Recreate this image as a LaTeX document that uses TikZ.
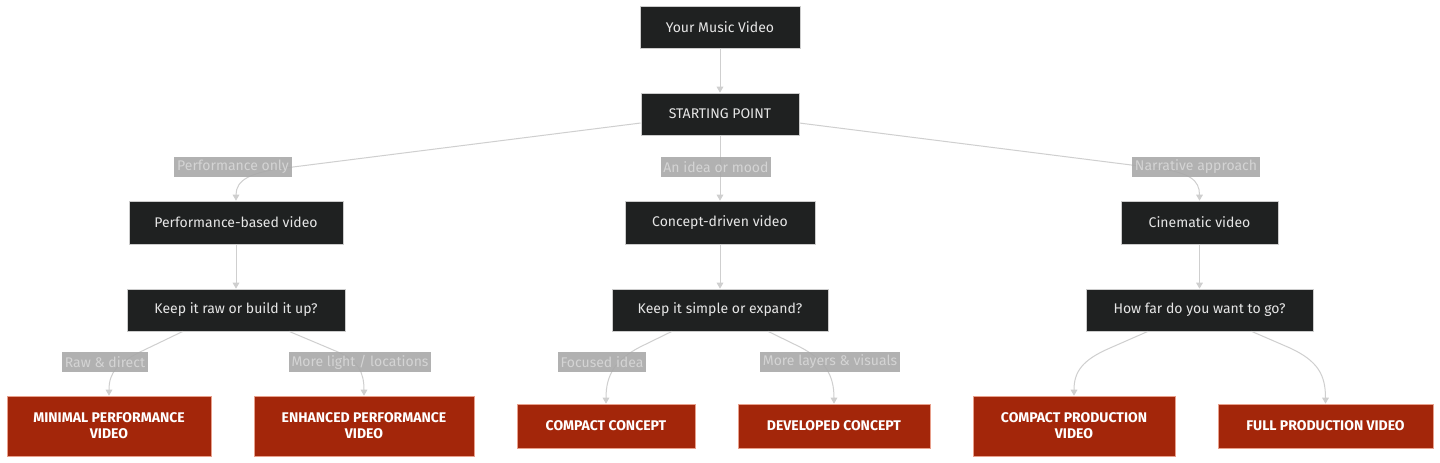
\documentclass[tikz,border=0pt]{standalone}
\usepackage{fontspec}
\setmainfont{Fira Sans}
\usetikzlibrary{arrows.meta}
\definecolor{darkfill}{HTML}{1F2121}
\definecolor{darkline}{HTML}{CCCCCC}
\definecolor{redfill}{HTML}{A3260A}
\definecolor{redline}{HTML}{E8A08C}
\definecolor{edgecol}{HTML}{CFCFCF}
\definecolor{lblfill}{HTML}{A9A9A9}
\definecolor{lbltext}{HTML}{D4D4D4}
\definecolor{nodetext}{HTML}{E6E6E6}
\tikzset{
  darkbox/.style={draw=darkline, line width=0.5pt, fill=darkfill, text=nodetext, font=\fontsize{10.5}{12}\selectfont, align=center, inner sep=0pt},
  redbox/.style={draw=redline, line width=0.5pt, fill=redfill, text=white, font=\fontsize{10.5}{12}\selectfont\bfseries, align=center, inner sep=0pt},
  lbl/.style={fill=lblfill, text=lbltext, font=\fontsize{10.5}{12}\selectfont, inner xsep=2pt, inner ysep=0pt, minimum height=15pt},
  edge/.style={draw=edgecol, line width=0.75pt, -{Triangle[width=5pt,length=4.5pt]}},
}
\begin{document}
\begin{tikzpicture}[x=0.75pt, y=-0.75pt]
\useasboundingbox (0,0) rectangle (1440,462);
\fill[white] (0,0) rectangle (1440,462);
% nodes
\node[darkbox, minimum width=120pt, minimum height=31.5pt] (mv) at (720,27) {Your Music Video};
\node[darkbox, minimum width=118.5pt, minimum height=31.5pt] (sp) at (720,114) {STARTING POINT};
\node[darkbox, minimum width=160.5pt, minimum height=32.25pt] (pb) at (236,222.5) {Performance-based video};
\node[darkbox, minimum width=142.5pt, minimum height=32.25pt] (cd) at (720,222.5) {Concept-driven video};
\node[darkbox, minimum width=117.75pt, minimum height=32.25pt] (cv) at (1199.5,222.5) {Cinematic video};
\node[darkbox, minimum width=163.5pt, minimum height=31.5pt] (kr) at (236,310) {Keep it raw or build it up?};
\node[darkbox, minimum width=162pt, minimum height=31.5pt] (ks) at (720,310) {Keep it simple or expand?};
\node[darkbox, minimum width=170.25pt, minimum height=31.5pt] (hf) at (1199.5,310) {How far do you want to go?};
\node[redbox, minimum width=153pt, minimum height=45pt] (mp) at (109,426) {MINIMAL PERFORMANCE\\VIDEO};
\node[redbox, minimum width=165pt, minimum height=45pt] (ep) at (364,426) {ENHANCED PERFORMANCE\\VIDEO};
\node[redbox, minimum width=133.5pt, minimum height=33pt] (cc) at (606,426) {COMPACT CONCEPT};
\node[redbox, minimum width=144pt, minimum height=33pt] (dc) at (834,426) {DEVELOPED CONCEPT};
\node[redbox, minimum width=151.5pt, minimum height=45pt] (cp) at (1074,426) {COMPACT PRODUCTION\\VIDEO};
\node[redbox, minimum width=161.25pt, minimum height=33pt] (fp) at (1325.5,426) {FULL PRODUCTION VIDEO};
% edges
\draw[edge] (mv.south) -- (sp.north);
\draw[edge] ([yshift=-6.75pt]sp.west) -- (285,168) .. controls (250,172.5) and (236,180) .. (pb.north);
\draw[edge] (sp.south) -- (cd.north);
\draw[edge] ([yshift=-6.75pt]sp.east) -- (1155,168) .. controls (1190,172.5) and (1199.5,180) .. (cv.north);
\draw[edge] (pb.south) -- (kr.north);
\draw[edge] (cd.south) -- (ks.north);
\draw[edge] (cv.south) -- (hf.north);
\draw[edge] ([xshift=-39.75pt]kr.south) -- (140,352) .. controls (118,363) and (109,372) .. (mp.north);
\draw[edge] ([xshift=39.75pt]kr.south) -- (338,352) .. controls (358,361) and (364,372) .. (ep.north);
\draw[edge] ([xshift=-36pt]ks.south) -- (640,347) .. controls (615,360) and (606,375) .. (cc.north);
\draw[edge] ([xshift=36pt]ks.south) -- (800,347) .. controls (825,360) and (834,375) .. (dc.north);
\draw[edge] ([xshift=-38.6pt]hf.south) -- (1110,348) .. controls (1082,360) and (1074,372) .. (cp.north);
\draw[edge] ([xshift=39pt]hf.south) -- (1290,348) .. controls (1318,361) and (1325.5,375) .. (fp.north);
% labels
\node[lbl, fill opacity=0.9, text opacity=1] (l1) at (233,167) {Performance only};
\node[lbl, fill opacity=0.9, text opacity=1] (l2) at (716,167) {An idea or mood};
\node[lbl, fill opacity=0.9, text opacity=1] (l3) at (1196,167) {Narrative approach};
\node[lbl, fill opacity=0.9, text opacity=1] (l4) at (105,362) {Raw \& direct};
\node[lbl, fill opacity=0.9, text opacity=1] (l5) at (360,362) {More light / locations};
\node[lbl, fill opacity=0.9, text opacity=1] (l6) at (602,362) {Focused idea};
\node[lbl, fill opacity=0.9, text opacity=1] (l7) at (830,362) {More layers \& visuals};
\end{tikzpicture}
\end{document}
